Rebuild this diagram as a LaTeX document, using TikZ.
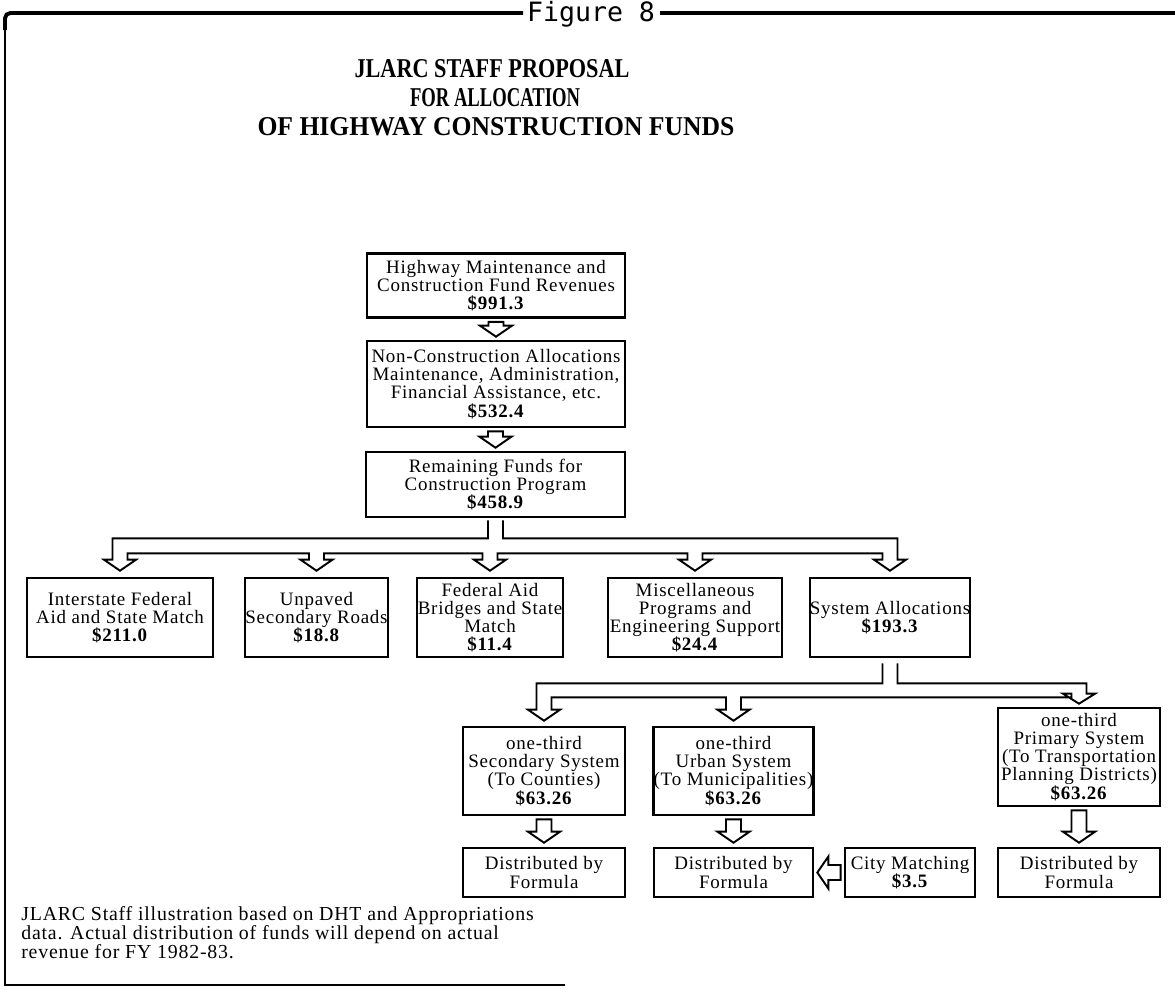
\documentclass[tikz,border=0pt]{standalone}
\usepackage{graphicx}
\usepackage{fontspec}
\setmainfont{Liberation Serif}[LetterSpace=4]
\newfontfamily\titlefont{Liberation Serif}
\newfontfamily\figfont{DejaVu Sans Mono}
\usetikzlibrary{calc}
\newcommand\boxfont{\fontsize{10.8}{10.3}\selectfont}
\newcommand\notefont{\fontsize{11.3}{10.8}\selectfont}
\newcommand\amt[1]{\textbf{\$#1}}
\newcommand\harrowdown[2]{%
  \draw[harrowline] let \p1=(#1), \p2=(#2) in
  (\x2-0.15cm,\y1) -- (\x2-0.15cm,\y2+0.22cm) -- (\x2-0.32cm,\y2+0.22cm) -- (\x2,\y2)
  -- (\x2+0.32cm,\y2+0.22cm) -- (\x2+0.15cm,\y2+0.22cm) -- (\x2+0.15cm,\y1) -- cycle;}
\newcommand\harrowleft[2]{%
  \draw[harrowline] let \p1=(#1), \p2=(#2) in
  (\x1,\y2+0.15cm) -- (\x2+0.22cm,\y2+0.15cm) -- (\x2+0.22cm,\y2+0.32cm) -- (\x2,\y2)
  -- (\x2+0.22cm,\y2-0.32cm) -- (\x2+0.22cm,\y2-0.15cm) -- (\x1,\y2-0.15cm) -- cycle;}
\tikzset{
  box/.style={draw, line width=1.5pt, inner sep=0pt, align=center, font=\boxfont},
  wh/.style 2 args={minimum width=#1*0.02cm, minimum height=#2*0.02cm},
  harrowline/.style={line width=1.1pt, line join=miter},
  frameline/.style={line width=1.3pt},
  topline/.style={line width=2.2pt},
}
\begin{document}
\begin{tikzpicture}[x=0.02cm,y=-0.02cm]
\useasboundingbox (0,0) rectangle (1175,995);
% frame
\draw[topline, rounded corners=3] (523,13) -- (5,13) -- (5,30);
\draw[frameline] (5,28) -- (5,985) -- (565,985);
\draw[topline] (660,13) -- (1175,13);
\node (fig) at (591,14) {\resizebox{2.56cm}{!}{\figfont Figure 8}};
% title
\node (t1) at (492,69) {\resizebox{5.5cm}{0.36cm}{\titlefont\bfseries JLARC STAFF PROPOSAL}};
\node (t2) at (495,98) {\resizebox{3.4cm}{0.36cm}{\titlefont\bfseries FOR ALLOCATION}};
\node (t3) at (496,127) {\resizebox{9.54cm}{0.36cm}{\titlefont\bfseries OF HIGHWAY CONSTRUCTION FUNDS}};
% boxes
\node[box, wh={258}{64}] (b1) at (496,285.5) {Highway Maintenance and\\Construction Fund Revenues\\\amt{991.3}};
\node[box, wh={258}{86}] (b2) at (496,384) {Non-Construction Allocations\\Maintenance, Administration,\\Financial Assistance, etc.\\\amt{532.4}};
\node[box, wh={259}{65}] (b3) at (495.5,484.5) {Remaining Funds for\\Construction Program\\\amt{458.9}};
\node[box, wh={186}{79}] (i1) at (120,617.5) {Interstate Federal\\Aid and State Match\\\amt{211.0}};
\node[box, wh={143}{79}] (i2) at (316.5,617.5) {Unpaved\\Secondary Roads\\\amt{18.8}};
\node[box, wh={146}{79}] (i3) at (490,617.5) {Federal Aid\\Bridges and State\\Match\\\amt{11.4}};
\node[box, wh={174}{79}] (i4) at (695,617.5) {Miscellaneous\\Programs and\\Engineering Support\\\amt{24.4}};
\node[box, wh={160}{79}] (i5) at (890,617.5) {System Allocations\\\amt{193.3}};
\node[box, wh={162}{88}] (s1) at (544,771) {one-third\\Secondary System\\(To Counties)\\\amt{63.26}};
\node[box, wh={159}{88}] (s2) at (733.5,771) {one-third\\Urban System\\(To Municipalities)\\\amt{63.26}};
\node[box, wh={162}{98}] (s3) at (1079,757) {one-third\\Primary System\\(To Transportation\\Planning Districts)\\\amt{63.26}};
\node[box, wh={162}{49}] (d1) at (544,872.5) {Distributed by\\Formula};
\node[box, wh={159}{49}] (d2) at (733.5,872.5) {Distributed by\\Formula};
\node[box, wh={130}{49}] (cm) at (910,872.5) {City Matching\\\amt{3.5}};
\node[box, wh={162}{49}] (d3) at (1079,872.5) {Distributed by\\Formula};
% footnote
\node[anchor=west, align=left, font=\notefont, inner sep=0pt] (note) at (21,933) {JLARC Staff illustration based on DHT and Appropriations\\data. Actual distribution of funds will depend on actual\\revenue for FY 1982-83.};
% straight hollow arrows
\harrowdown{$(b1.south)+(0,3)$}{$(b2.north)+(0,-3)$}
\harrowdown{$(b2.south)+(0,3)$}{$(b3.north)+(0,-3)$}
\harrowdown{$(s1.south)+(0,3)$}{$(d1.north)+(0,-4)$}
\harrowdown{$(s2.south)+(0,3)$}{$(d2.north)+(0,-4)$}
\harrowdown{$(s3.south)+(0,3)$}{$(d3.north)+(0,-4)$}
\harrowleft{$(cm.west)+(-3,0)$}{$(d2.east)+(3,0)$}
% branch from remaining funds
\draw[harrowline] let \p0=(b3.south), \p1=(i1.north), \p2=(i2.north), \p3=(i3.north), \p4=(i4.north), \p5=(i5.north),
  \p6=($(b3.south)+(0,20)$), \p7=($(b3.south)+(0,35)$), \p8=($(i1.north)+(0,-6)$), \p9=($(i1.north)+(0,-17)$) in
  (\x0-0.15cm,\y0-0.04cm) -- (\x0-0.15cm,\y6) -- (\x1-0.15cm,\y6)
  -- (\x1-0.15cm,\y9) -- (\x1-0.32cm,\y9) -- (\x1,\y8) -- (\x1+0.32cm,\y9) -- (\x1+0.15cm,\y9) -- (\x1+0.15cm,\y7)
  -- (\x2-0.15cm,\y7) -- (\x2-0.15cm,\y9) -- (\x2-0.32cm,\y9) -- (\x2,\y8) -- (\x2+0.32cm,\y9) -- (\x2+0.15cm,\y9) -- (\x2+0.15cm,\y7)
  -- (\x3-0.15cm,\y7) -- (\x3-0.15cm,\y9) -- (\x3-0.32cm,\y9) -- (\x3,\y8) -- (\x3+0.32cm,\y9) -- (\x3+0.15cm,\y9) -- (\x3+0.15cm,\y7)
  -- (\x4-0.15cm,\y7) -- (\x4-0.15cm,\y9) -- (\x4-0.32cm,\y9) -- (\x4,\y8) -- (\x4+0.32cm,\y9) -- (\x4+0.15cm,\y9) -- (\x4+0.15cm,\y7)
  -- (\x5-0.15cm,\y7) -- (\x5-0.15cm,\y9) -- (\x5-0.32cm,\y9) -- (\x5,\y8) -- (\x5+0.32cm,\y9) -- (\x5+0.15cm,\y9) -- (\x5+0.15cm,\y6)
  -- (\x0+0.15cm,\y6) -- (\x0+0.15cm,\y0-0.04cm);
% branch from system allocations
\draw[harrowline] let \p0=(i5.south), \p1=(s1.north), \p2=(s2.north), \p3=(s3.north),
  \p6=($(i5.south)+(0,25)$), \p7=($(i5.south)+(0,39)$), \p8=($(s1.north)+(0,-5)$), \p9=($(s1.north)+(0,-16)$),
  \p{c}=($(s3.north)+(0,-3)$), \p{d}=($(s3.north)+(0,-13)$) in
  (\x0-0.15cm,\y0-0.1cm) -- (\x0-0.15cm,\y6) -- (\x1-0.15cm,\y6)
  -- (\x1-0.15cm,\y9) -- (\x1-0.32cm,\y9) -- (\x1,\y8) -- (\x1+0.32cm,\y9) -- (\x1+0.15cm,\y9) -- (\x1+0.15cm,\y7)
  -- (\x2-0.15cm,\y7) -- (\x2-0.15cm,\y9) -- (\x2-0.32cm,\y9) -- (\x2,\y8) -- (\x2+0.32cm,\y9) -- (\x2+0.15cm,\y9) -- (\x2+0.15cm,\y7)
  -- (\x3-0.15cm,\y7) -- (\x3-0.15cm,\y{d}) -- (\x3-0.32cm,\y{d}) -- (\x3,\y{c}) -- (\x3+0.32cm,\y{d}) -- (\x3+0.15cm,\y{d}) -- (\x3+0.15cm,\y6)
  -- (\x0+0.15cm,\y6) -- (\x0+0.15cm,\y0-0.1cm);
\end{tikzpicture}
\end{document}
